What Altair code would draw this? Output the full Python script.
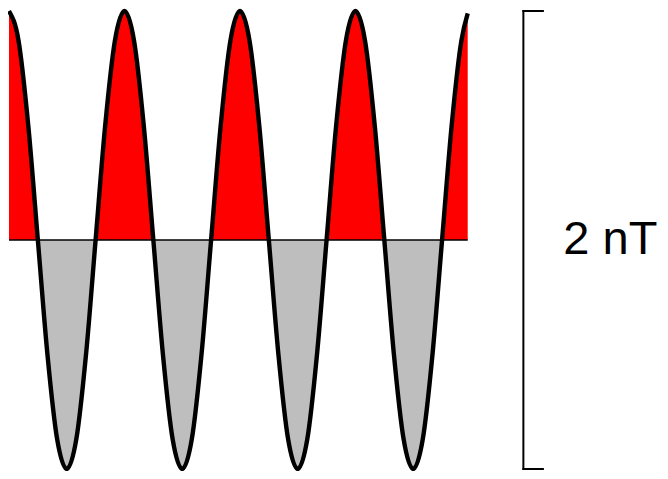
import altair as alt
import pandas as pd

# Sample times (in wave cycles) and magnetic field values (nT)
time_cycles = [
    0.000, 0.083, 0.167, 0.250, 0.333, 0.417, 0.500, 0.583, 0.667, 0.750, 0.833, 0.917,
    1.000, 1.083, 1.167, 1.250, 1.333, 1.417, 1.500, 1.583, 1.667, 1.750, 1.833, 1.917,
    2.000, 2.083, 2.167, 2.250, 2.333, 2.417, 2.500, 2.583, 2.667, 2.750, 2.833, 2.917,
    3.000, 3.083, 3.167, 3.250, 3.333, 3.417, 3.500, 3.583, 3.667, 3.750, 3.833, 3.917,
    3.972,
]
field_nT = [
    1.00, 0.87, 0.50, 0.00, -0.50, -0.87, -1.00, -0.87, -0.50, 0.00, 0.50, 0.87,
    1.00, 0.87, 0.50, 0.00, -0.50, -0.87, -1.00, -0.87, -0.50, 0.00, 0.50, 0.87,
    1.00, 0.87, 0.50, 0.00, -0.50, -0.87, -1.00, -0.87, -0.50, 0.00, 0.50, 0.87,
    1.00, 0.87, 0.50, 0.00, -0.50, -0.87, -1.00, -0.87, -0.50, 0.00, 0.50, 0.87,
    0.99,
]

# Scale bar: 2 nT spanning -1 .. +1 nT
bar_low = [-1.0]
bar_high = [1.0]
bar_label = ["2 nT"]

wave = pd.DataFrame({"t": time_cycles, "b": field_nT})
zero_df = pd.DataFrame({"t0": [time_cycles[0]], "t1": [time_cycles[-1]], "b": [0.0]})

BAR_T = 4.454
TICK_T = 4.623
LABEL_T = 4.80
bar_df = pd.DataFrame({"t": [BAR_T], "lo": bar_low, "hi": bar_high})
tick_df = pd.DataFrame({"t0": [BAR_T, BAR_T], "t1": [TICK_T, TICK_T],
                        "b": [bar_high[0], bar_low[0]]})
label_df = pd.DataFrame({"t": [LABEL_T], "b": [0.0], "label": bar_label})

xs = alt.Scale(domain=[-0.0085, 5.637], nice=False, zero=False)
top_ys = alt.Scale(domain=[0, 1.0131], nice=False, zero=False)
bot_ys = alt.Scale(domain=[-1.0087, 0], nice=False, zero=False)

W = 652
H_TOP = 232
H_BOT = 231


def wave_layers(color, ys):
    x = alt.X("t:Q", scale=xs, axis=None)
    y = alt.Y("b:Q", scale=ys, axis=None)
    area = alt.Chart(wave).mark_area(color=color, interpolate="monotone", clip=True).encode(
        x=x, y=y, y2=alt.datum(0))
    line = alt.Chart(wave).mark_line(color="black", strokeWidth=4.4, interpolate="monotone",
                                     clip=True).encode(x=x, y=y)
    return area, line


top_area, top_line = wave_layers("#ff0000", top_ys)
bot_area, bot_line = wave_layers("#bebebe", bot_ys)

zero_rule = alt.Chart(zero_df).mark_rule(color="black", strokeWidth=1.7).encode(
    x=alt.X("t0:Q", scale=xs, axis=None), x2="t1:Q",
    y=alt.Y("b:Q", scale=bot_ys, axis=None))

bar_rule = alt.Chart(bar_df).mark_rule(color="black", strokeWidth=2, strokeCap="square").encode(
    x=alt.X("t:Q", scale=xs, axis=None),
    y=alt.Y("lo:Q", scale=top_ys, axis=None), y2="hi:Q")
tick_rule = alt.Chart(tick_df).mark_rule(color="black", strokeWidth=2, strokeCap="square").encode(
    x=alt.X("t0:Q", scale=xs, axis=None), x2="t1:Q",
    y=alt.Y("b:Q", scale=top_ys, axis=None))
label = alt.Chart(label_df).mark_text(fontSize=47, font="Liberation Sans", align="left",
                                      baseline="middle", color="black").encode(
    x=alt.X("t:Q", scale=xs, axis=None),
    y=alt.Y("b:Q", scale=top_ys, axis=None),
    text="label:N")

top = alt.layer(top_area, top_line, bar_rule, tick_rule, label).properties(width=W, height=H_TOP)
bottom = alt.layer(bot_area, zero_rule, bot_line).properties(width=W, height=H_BOT)

chart = alt.vconcat(top, bottom, spacing=0, bounds="flush").properties(
    padding=0
).configure_view(strokeWidth=0)

chart.save("out.html", embed_options={"renderer": "svg", "actions": False})
